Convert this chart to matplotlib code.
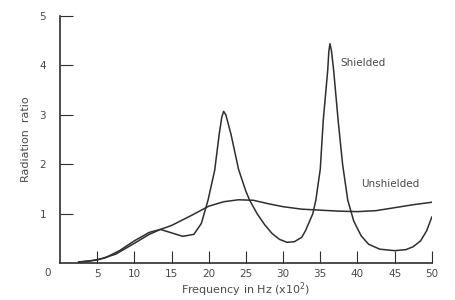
import numpy as np
import matplotlib
matplotlib.use('Agg')
import matplotlib.pyplot as plt

# shielded curve, frequency in Hz x10^2
shielded_f = [2.5, 4, 6, 8, 10, 12, 13.5, 15, 16.5, 18, 19, 19.9, 20.8, 21.4, 21.75, 22, 22.3,
              23, 24, 25, 25.5, 26.5, 27.5, 28.5, 29.5, 30.5, 31.5, 32.5, 33, 34,
              34.4, 35, 35.4, 36, 36.15, 36.3, 36.5, 36.8, 37.4, 38, 38.7, 39.5, 40.5, 41.5, 43,
              45, 46.5, 47.5, 48.5, 49.3, 50]
shielded_r = [0.02, 0.04, 0.1, 0.25, 0.45, 0.62, 0.68, 0.61, 0.54, 0.58, 0.8, 1.27, 1.88, 2.6, 2.95, 3.07, 3.0,
              2.6, 1.9, 1.45, 1.27, 1.0, 0.78, 0.6, 0.48, 0.42, 0.43, 0.52, 0.65, 1.0,
              1.27, 1.9, 2.89, 3.9, 4.28, 4.44, 4.3, 3.9, 2.89, 2.0, 1.27, 0.85, 0.55, 0.38, 0.28,
              0.25, 0.27, 0.33, 0.45, 0.65, 0.93]

unshielded_f = [2.5, 5, 7.5, 10, 12, 13.5, 15, 17.5, 20, 22, 24, 26, 28, 30,
                32.5, 35, 37.5, 40, 42.5, 45, 47.5, 50]
unshielded_r = [0.02, 0.06, 0.18, 0.4, 0.58, 0.68, 0.76, 0.95, 1.15, 1.24, 1.28, 1.27, 1.2, 1.14,
                1.09, 1.07, 1.05, 1.04, 1.06, 1.12, 1.18, 1.23]

x_ticks = [5, 10, 15, 20, 25, 30, 35, 40, 45, 50]
y_ticks = [1, 2, 3, 4, 5]

line_col = '#2e2e2e'
text_col = '#4a4a4a'

fig = plt.figure(figsize=(4.55, 3.0), dpi=100)
ax = fig.add_axes([0.132, 0.1233, 0.817, 0.8233])

ax.plot(shielded_f, shielded_r, color=line_col, linewidth=1.1)
ax.plot(unshielded_f, unshielded_r, color=line_col, linewidth=1.1)

ax.set_xlim(0, 50)
ax.set_ylim(0, 5)
ax.spines['top'].set_visible(False)
ax.spines['right'].set_visible(False)
for s in ['left', 'bottom']:
    ax.spines[s].set_color(line_col)
    ax.spines[s].set_linewidth(1.2)

ax.set_xticks(x_ticks)
ax.set_yticks(y_ticks)
ax.tick_params(direction='in', length=9, width=0.8, color=line_col,
               labelsize=7.5, labelcolor=text_col)
ax.tick_params(axis='x', pad=4)
ax.tick_params(axis='y', pad=10)
ax.text(-1.2, -0.1, '0', ha='right', va='top', fontsize=7.5, color=text_col)

ax.set_xlabel('Frequency in Hz (x10$^2$)', fontsize=8, color=text_col, labelpad=1)
ax.set_ylabel('Radiation  ratio', fontsize=8, color=text_col, labelpad=6)

ax.text(37.7, 4.05, 'Shielded', fontsize=7.5, color=text_col, va='center')
ax.text(40.5, 1.6, 'Unshielded', fontsize=7.5, color=text_col, va='center')

fig.savefig('out.png', dpi=100)
